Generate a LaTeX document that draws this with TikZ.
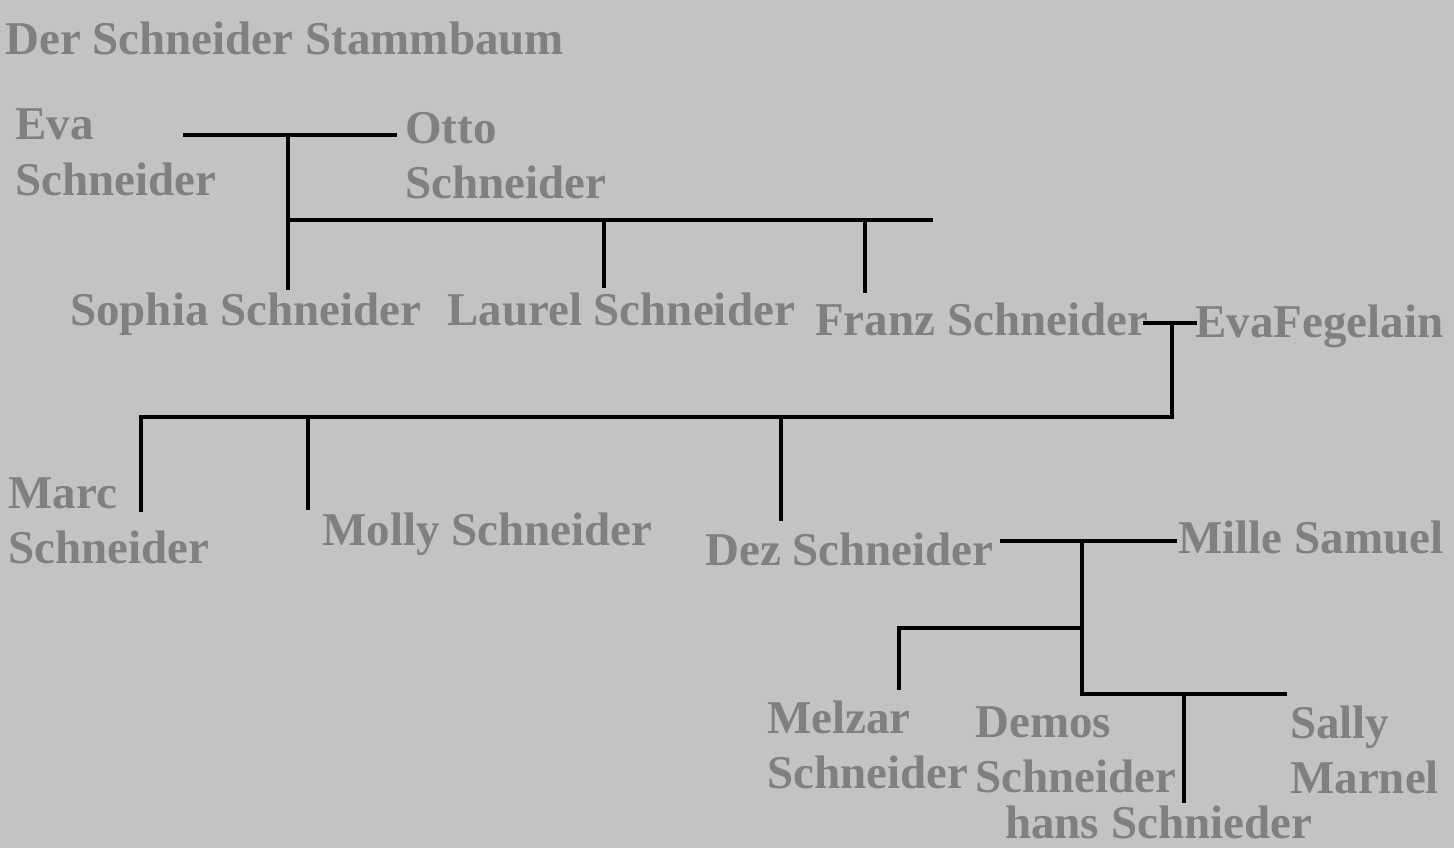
\documentclass[tikz,border=0pt]{standalone}
\usepackage{fontspec}
\setmainfont{Liberation Serif}
\definecolor{bg}{RGB}{195,195,195}
\definecolor{txtgray}{RGB}{128,128,128}
\begin{document}
\begin{tikzpicture}[x=1pt,y=-1pt,
  person/.style={anchor=base west, inner sep=0pt, text=txtgray, font=\bfseries\fontsize{47}{55}\selectfont, align=left},
  link/.style={line width=4.5pt, draw=black}]
\fill[bg] (0,0) rectangle (1454,848);
\useasboundingbox (0,0) rectangle (1454,848);
% texts (multi-line nodes: base = baseline of the last line)
\node[person] (title) at (5,55) {Der Schneider Stammbaum};
\node[person] (eva) at (15,195) {Eva\\Schneider};
\node[person] (otto) at (405,198) {Otto\\Schneider};
\node[person] (sophia) at (70,325) {Sophia Schneider};
\node[person] (laurel) at (447,325) {Laurel Schneider};
\node[person] (franz) at (815,335) {Franz Schneider};
\node[person] (evaf) at (1195,337) {EvaFegelain};
\node[person] (marc) at (8,563) {Marc\\Schneider};
\node[person] (molly) at (322,545) {Molly Schneider};
\node[person] (dez) at (705,565) {Dez Schneider};
\node[person] (mille) at (1178,553) {Mille Samuel};
\node[person] (melzar) at (767,788) {Melzar\\Schneider};
\node[person] (demos) at (975,792) {Demos\\Schneider};
\node[person] (sally) at (1290,793) {Sally\\Marnel};
\node[person] (hans) at (1005,838) {hans Schnieder};
% junction coordinates
\coordinate (c1l) at (183,135);
\coordinate (c1r) at (397,135);
\coordinate (c1m) at (288,135);
\coordinate (c1s) at (288,290);
\coordinate (r1a) at (288,220);
\coordinate (r1b) at (933,220);
\coordinate (l1t) at (604,222);
\coordinate (l1b) at (604,288);
\coordinate (f1t) at (865,218);
\coordinate (f1b) at (865,293);
\coordinate (c2l) at (1143,323);
\coordinate (c2r) at (1197,323);
\coordinate (c2m) at (1172,323);
\coordinate (c2d) at (1172,417);
\coordinate (r2l) at (141,417);
\coordinate (m2b) at (141,512);
\coordinate (o2t) at (308,417);
\coordinate (o2b) at (308,510);
\coordinate (d2t) at (781,419);
\coordinate (d2b) at (781,521);
\coordinate (c3l) at (1000,541);
\coordinate (c3r) at (1177,541);
\coordinate (c3m) at (1082,541);
\coordinate (c3a) at (1082,628);
\coordinate (c3d) at (1082,694);
\coordinate (me3t) at (899,628);
\coordinate (me3b) at (899,690);
\coordinate (s3r) at (1287,694);
\coordinate (h3t) at (1184,694);
\coordinate (h3b) at (1184,803);
% connectors
\draw[link] (c1l) -- (c1r);
\draw[link] (c1m) -- (c1s);
\draw[link] (r1a) -- (r1b);
\draw[link] (l1t) -- (l1b);
\draw[link] (f1t) -- (f1b);
\draw[link] (c2l) -- (c2r);
\draw[link] (c2m) -- (c2d) -- (r2l) -- (m2b);
\draw[link] (o2t) -- (o2b);
\draw[link] (d2t) -- (d2b);
\draw[link] (c3l) -- (c3r);
\draw[link] (c3m) -- (c3d) -- (s3r);
\draw[link] (c3a) -- (me3t) -- (me3b);
\draw[link] (h3t) -- (h3b);
\end{tikzpicture}
\end{document}
